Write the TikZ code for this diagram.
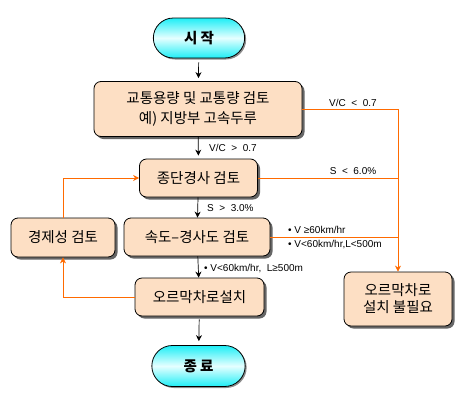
\documentclass[tikz,border=0pt]{standalone}
\usepackage{fontspec}
\setmainfont{Liberation Sans}
\newfontfamily\kr{Noto Sans CJK KR}
\usetikzlibrary{shapes.misc,shadows,arrows.meta,calc}
\definecolor{boxfill}{HTML}{FDDFC4}
\definecolor{termcyan}{HTML}{1EEEF6}
\definecolor{termlight}{HTML}{E6FFFF}
\definecolor{flowor}{HTML}{FF6A00}

\begin{document}
\begin{tikzpicture}[x=1pt, y=-1pt,
  box/.style={rectangle, draw, rounded corners=7pt, fill=boxfill, align=center, line width=0.8pt,
    font=\kr\fontsize{14.5}{20}\selectfont, inner sep=2pt,
    drop shadow={shadow xshift=2.5pt, shadow yshift=-2.5pt, fill=black!60, opacity=1}},
  term/.style={rounded rectangle, draw, line width=0.8pt, minimum width=98pt, minimum height=40pt,
    top color=termcyan, bottom color=termcyan, middle color=termlight,
    font=\kr\bfseries\fontsize{14.5}{17}\selectfont,
    drop shadow={shadow xshift=1.5pt, shadow yshift=-1.5pt, fill=black!45, opacity=1}},
  arrow/.style={-{Stealth[length=6pt, width=6pt]}, line width=0.7pt},
  oarrow/.style={arrow, draw=flowor},
  oline/.style={draw=flowor, line width=0.7pt},
  label/.style={font=\fontsize{10}{11}\selectfont, inner sep=0pt},
]
\useasboundingbox (0,0) rectangle (465,402);

% === MAIN FLOW ===
\node[term] (start) at (199,38) {시 작};
\node[box, minimum width=208pt, minimum height=55pt] (volume) at (198,109)
  {교통용량 및 교통량 검토\\예) 지방부 고속두루};
\node[box, minimum width=118pt, minimum height=38pt] (grade) at (198.5,178) {종단경사 검토};
\node[box, minimum width=146pt, minimum height=38pt] (speed) at (197,237) {속도–경사도 검토};
\node[box, minimum width=129pt, minimum height=38pt] (climb) at (199.5,297) {오르막차로설치};
\node[term, minimum width=100pt, minimum height=41pt] (stop) at (198.5,366) {종 료};

% === SIDE BOXES ===
\node[box, minimum width=104pt, minimum height=39pt] (econ) at (63,237.5) {경제성 검토};
\node[box, minimum width=108pt, minimum height=54pt, font=\kr\fontsize{14.5}{17}\selectfont] (nolane) at (398,299) {오르막차로\\설치 불필요};

\draw[arrow, shorten <=4pt, shorten >=3pt] (start) -- (volume);
\draw[arrow, shorten >=3pt] (volume) -- (grade);
\draw[arrow] (grade) -- (speed);
\draw[arrow] (speed) -- (climb);
\draw[arrow, shorten <=3pt, shorten >=4pt] (climb) -- (stop);

% exits to the right
\draw[oarrow] (volume.east) -| (nolane.north);
\draw[oline] (grade.east) -- (grade.east -| nolane.north);
\draw[oline] (speed.east) -- (speed.east -| nolane.north);

% economic loop
\draw[oarrow] (climb.west) -| (econ.south);
\draw[oarrow] (econ.north) |- (grade.west);

% conditions
\node[label] (lvclow) at (353,103) {V/C~~<~~0.7};
\node[label, anchor=west] (lvchigh) at (209,148) {V/C~~>~~0.7};
\node[label] (lslow) at (353,171) {S~~<~~6.0\%};
\node[label, anchor=west] (lshigh) at (207,208) {S~~>~~3.0\%};
\node[label, anchor=west] (lfast) at (288,230) {• V ≥60km/hr};
\node[label, anchor=west] (lshort) at (288,245) {• V<60km/hr,L<500m};
\node[label, anchor=west] (llong) at (204,269) {• V<60km/hr,~~L≥500m};
\end{tikzpicture}
\end{document}
